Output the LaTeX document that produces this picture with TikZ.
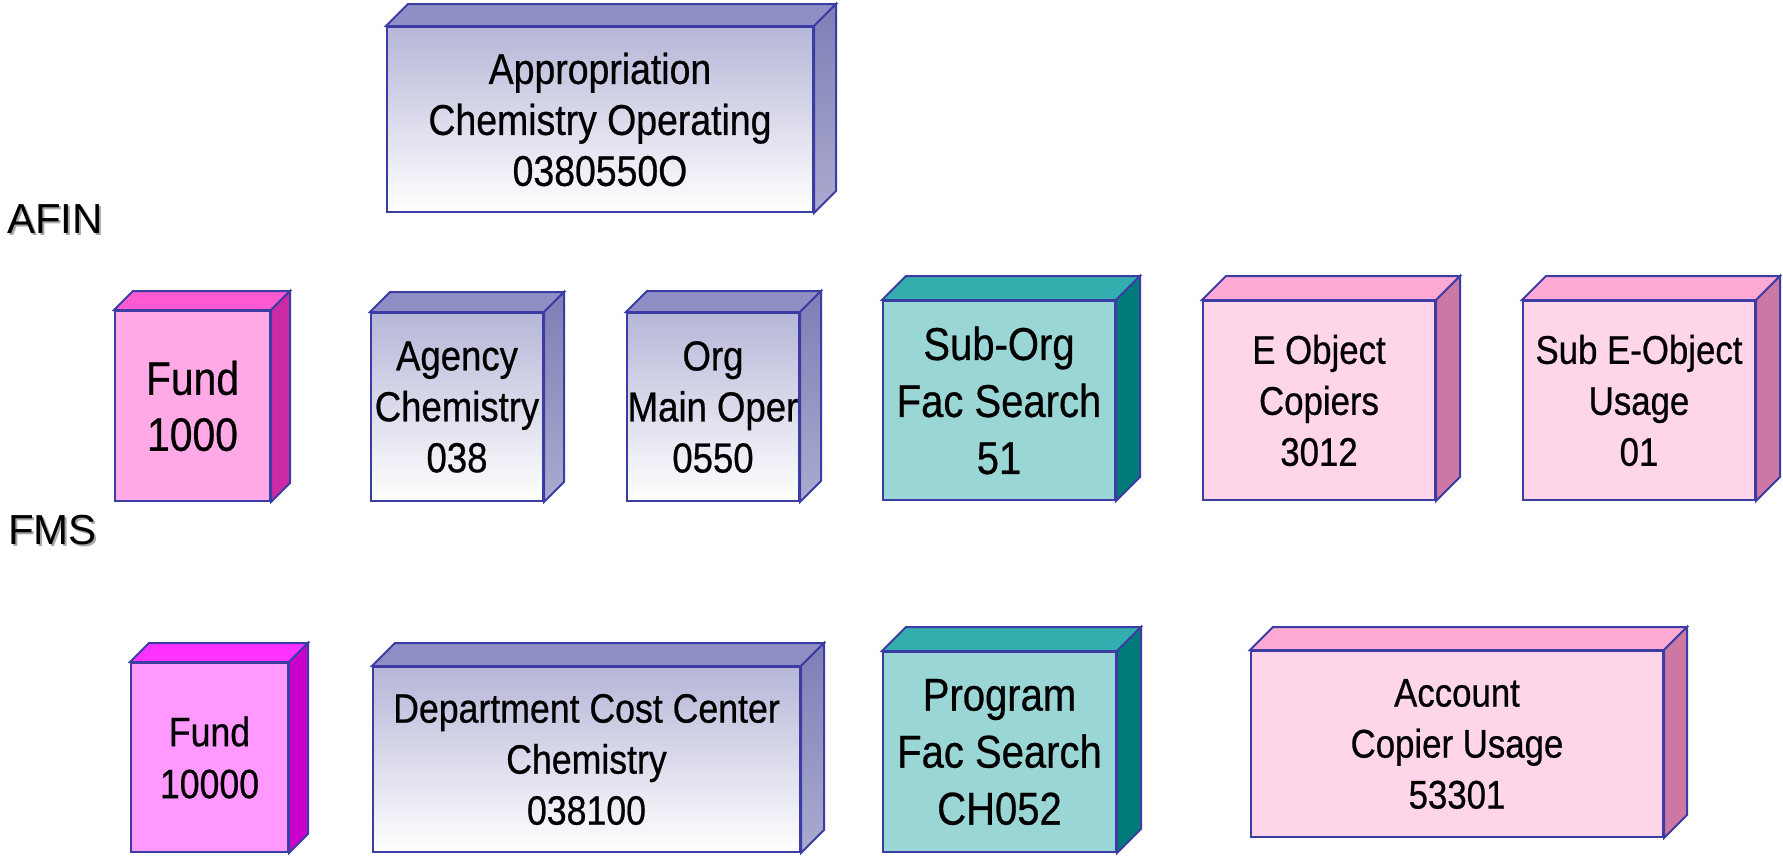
\documentclass[tikz,border=0pt]{standalone}
\usepackage{fontspec}
\setmainfont{Liberation Sans}[FakeStretch=0.87,FakeBold=0.6]
\newfontfamily\labelfont{Liberation Sans}
\usetikzlibrary{calc}
\definecolor{edgeblue}{HTML}{3C3CA5}
\definecolor{bluefrontT}{HTML}{B6B6D8}
\definecolor{bluetop}{HTML}{8F8FC6}
\definecolor{bluesideT}{HTML}{7E7EB6}
\definecolor{bluesideB}{HTML}{ABABCF}
\definecolor{fundAfront}{HTML}{FFAAE6}
\definecolor{fundAtop}{HTML}{FF5AD2}
\definecolor{fundAside}{HTML}{CC2AA5}
\definecolor{fundBfront}{HTML}{FF99FF}
\definecolor{fundBtop}{HTML}{FF33FF}
\definecolor{fundBside}{HTML}{CC00CC}
\definecolor{tealfront}{HTML}{9AD6D6}
\definecolor{tealtop}{HTML}{33ADAD}
\definecolor{tealside}{HTML}{007A7A}
\definecolor{pinkfront}{HTML}{FFD5EA}
\definecolor{pinktop}{HTML}{FFAAD4}
\definecolor{pinkside}{HTML}{CC77A4}
\tikzset{
  facebase/.style={draw=edgeblue, line width=2pt, line join=miter},
  frontbase/.style={facebase, rectangle, inner sep=0pt, align=center, text=black},
  frontblue/.style={frontbase, top color=bluefrontT, bottom color=white},
  topblue/.style={facebase, fill=bluetop},
  sideblue/.style={facebase, top color=bluesideT, bottom color=bluesideB},
  frontfundA/.style={frontbase, fill=fundAfront},
  topfundA/.style={facebase, fill=fundAtop},
  sidefundA/.style={facebase, fill=fundAside},
  frontfundB/.style={frontbase, fill=fundBfront},
  topfundB/.style={facebase, fill=fundBtop},
  sidefundB/.style={facebase, fill=fundBside},
  frontteal/.style={frontbase, fill=tealfront},
  topteal/.style={facebase, fill=tealtop},
  sideteal/.style={facebase, fill=tealside},
  frontpink/.style={frontbase, fill=pinkfront},
  toppink/.style={facebase, fill=pinktop},
  sidepink/.style={facebase, fill=pinkside},
  syslabel/.style={anchor=base west, inner sep=0pt, font=\labelfont\fontsize{42}{50}\selectfont},
}
% #1 name, #2 center, #3 width, #4 height, #5 depth, #6 palette, #7 font size, #8 line skip, #9 text
\newcommand{\cubebox}[9]{%
  \node[front#6, minimum width=#3, minimum height=#4, font=\fontsize{#7}{#8}\selectfont] (#1) at #2 {#9};
  \path[top#6] (#1.north west) -- ([shift={(#5,-#5)}]#1.north west) -- ([shift={(#5,-#5)}]#1.north east) -- (#1.north east) -- cycle;
  \path[side#6] (#1.north east) -- ([shift={(#5,-#5)}]#1.north east) -- ([shift={(#5,-#5)}]#1.south east) -- (#1.south east) -- cycle;
}
\begin{document}
\begin{tikzpicture}[x=1pt,y=-1pt]
\useasboundingbox[fill=white] (0,0) rectangle (1783,855);
% system labels with shadow
\node[syslabel, text=black!35] (afinshadow) at (9,235) {AFIN};
\node[syslabel] (afin) at (7,233) {AFIN};
\node[syslabel, text=black!35] (fmsshadow) at (10,546) {FMS};
\node[syslabel] (fms) at (8,544) {FMS};
% AFIN row
\cubebox{app}{(600,119.5)}{426}{185}{22}{blue}{43}{51}{Appropriation\\Chemistry Operating\\0380550O}
\cubebox{fundA}{(192.5,406)}{155}{190}{19}{fundA}{47}{56}{Fund\\1000}
\cubebox{agency}{(457,407)}{172}{188}{20}{blue}{42}{51}{Agency\\Chemistry\\038}
\cubebox{org}{(713,407)}{172}{188}{21}{blue}{42}{51}{Org\\Main Oper\\0550}
\cubebox{suborg}{(999,400.5)}{232}{199}{24}{teal}{46}{57}{Sub-Org\\Fac Search\\51}
\cubebox{eobj}{(1319,400.5)}{232}{199}{24}{pink}{40}{51}{E Object\\Copiers\\3012}
\cubebox{subeobj}{(1639,400.5)}{232}{199}{24}{pink}{40}{51}{Sub E-Object\\Usage\\01}
% FMS row
\cubebox{fundB}{(209.5,757.5)}{157}{189}{19}{fundB}{41}{52}{Fund\\10000}
\cubebox{dept}{(586.5,759.5)}{427}{185}{23}{blue}{41}{51}{Department Cost Center\\Chemistry\\038100}
\cubebox{prog}{(999.5,752)}{233}{200}{24}{teal}{46}{57}{Program\\Fac Search\\CH052}
\cubebox{acct}{(1457,744)}{412}{186}{23}{pink}{40}{51}{Account\\Copier Usage\\53301}
\end{tikzpicture}
\end{document}
